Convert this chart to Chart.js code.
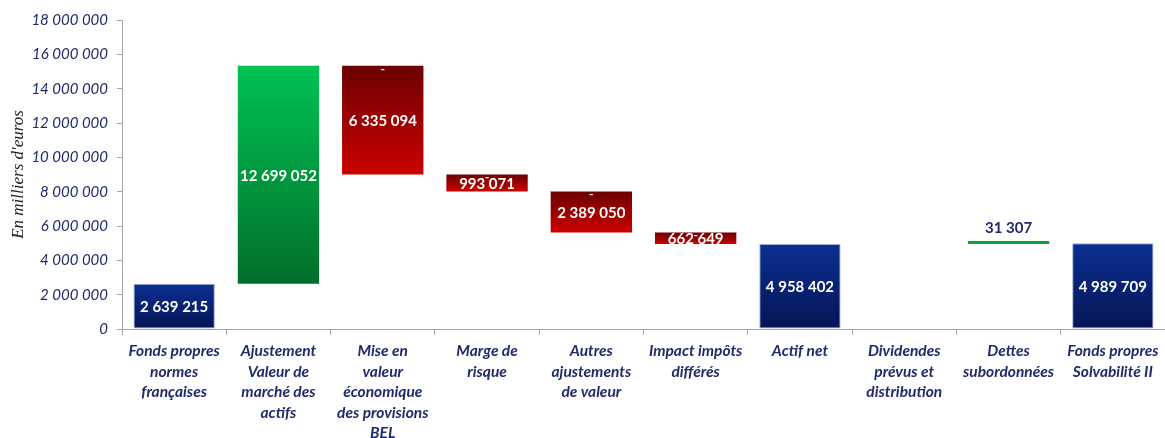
<!DOCTYPE html>
<html><head><meta charset="utf-8">
<script src="https://cdn.jsdelivr.net/npm/chart.js@4/dist/chart.umd.min.js"></script>
<style>html,body{margin:0;padding:0;background:#fff;overflow:hidden}</style>
</head><body>
<canvas id="c" width="1165" height="438"></canvas>
<script>
const categories = [
  ["Fonds propres","normes","françaises"],
  ["Ajustement","Valeur de","marché des","actifs"],
  ["Mise en","valeur","économique","des provisions","BEL"],
  ["Marge de","risque"],
  ["Autres","ajustements","de valeur"],
  ["Impact impôts","différés"],
  ["Actif net"],
  ["Dividendes","prévus et","distribution"],
  ["Dettes","subordonnées"],
  ["Fonds propres","Solvabilité II"]
];
const amounts = [2639215, 12699052, -6335094, -993071, -2389050, -662649, 4958402, 0, 31307, 4989709];
const kinds = ["total","up","down","down","down","down","total","none","up","total"];
const amountLabels = ["2 639 215","12 699 052","6 335 094","993 071","2 389 050","662 649","4 958 402","","31 307","4 989 709"];
const dashMarks = [false,false,true,true,true,true,false,false,false,false];
const yTicks = [0,2000000,4000000,6000000,8000000,10000000,12000000,14000000,16000000,18000000];

let run = 0;
const ranges = amounts.map((a,i)=>{
  if (kinds[i]==='total'){ run=a; return [0,a]; }
  if (kinds[i]==='none') return null;
  const lo=run, hi=run+a; run=hi; return [Math.min(lo,hi),Math.max(lo,hi)];
});

const palette = {
  total:['#0b2f92','#051554'],
  up:['#00c253','#006f2b'],
  down:['#6c0000','#cc0000']
};
function fillFor(ctx){
  const i=ctx.dataIndex, k=kinds[i], r=ranges[i];
  if(!r||!palette[k]) return '#fff';
  if(k==='up' && i===8) return '#0aa040';
  const ch=ctx.chart; const y=ch.scales&&ch.scales.y;
  if(!y||!ch.chartArea) return palette[k][0];
  const top=y.getPixelForValue(r[1]), bot=y.getPixelForValue(r[0]);
  if(!isFinite(top)||!isFinite(bot)||top===bot) return palette[k][0];
  const g=ch.ctx.createLinearGradient(0,top,0,bot);
  g.addColorStop(0,palette[k][0]); g.addColorStop(1,palette[k][1]);
  return g;
}

const labelPlugin = {
  id:'wfLabels',
  afterDatasetsDraw(chart){
    const c=chart.ctx; const meta=chart.getDatasetMeta(0);
    c.save();
    c.textAlign='center'; c.textBaseline='middle';
    meta.data.forEach((el,i)=>{
      if(!ranges[i]) return;
      const top=Math.min(el.y,el.base), bot=Math.max(el.y,el.base);
      const h=bot-top;
      c.font='bold 15px Lato';
      if(h<8){
        c.fillStyle='#1F2A6B';
        c.fillText(amountLabels[i], el.x, top-13);
      } else {
        c.fillStyle='#ffffff';
        c.fillText(amountLabels[i], el.x, (top+bot)/2+1);
      }
      if(dashMarks[i]){
        c.fillStyle='#ffffff';
        c.font='bold 12px Lato';
        c.fillText('-', el.x, top+3);
      }
    });
    c.restore();
  }
};

new Chart(document.getElementById('c'),{
  type:'bar',
  data:{labels:categories,datasets:[{
    data:ranges,
    backgroundColor:fillFor,
    borderColor:(ctx)=>kinds[ctx.dataIndex]==='total'?'rgba(150,165,210,0.9)':'rgba(0,0,0,0)',
    borderWidth:(ctx)=>kinds[ctx.dataIndex]==='total'?1:0,
    borderSkipped:false,
    categoryPercentage:1,
    barPercentage:0.78,
    minBarLength:3
  }]},
  options:{
    responsive:false,animation:false,
    layout:{padding:{top:20,right:-4,left:0,bottom:0}},
    plugins:{legend:{display:false},tooltip:{enabled:false}},
    scales:{
      x:{
        grid:{offset:true,drawOnChartArea:false,tickLength:6,color:'#a6a6a6'},
        border:{color:'#a6a6a6'},
        ticks:{font:{family:'Lato',size:15.5,weight:'bold',style:'italic',lineHeight:1.32},color:'#1F2A6B',padding:6,maxRotation:0,minRotation:0,autoSkip:false},
        afterFit:(s)=>{s.height=109;}
      },
      y:{
        min:0,max:18000000,
        afterBuildTicks:(s)=>{s.ticks=yTicks.map(v=>({value:v}));},
        ticks:{font:{family:'Lato',size:15,style:'italic'},color:'#1F2A6B',padding:9,
          callback:(v)=>String(v).replace(/\B(?=(\d{3})+(?!\d))/g,' ')},
        grid:{drawOnChartArea:false,tickLength:5,color:'#a6a6a6'},
        border:{color:'#a6a6a6'},
        title:{display:true,text:"En milliers d'euros",font:{family:'Liberation Serif',size:17,style:'italic'},color:'#222',padding:{top:8,bottom:0}},
        afterFit:(s)=>{s.width=122;}
      }
    }
  },
  plugins:[labelPlugin]
});
</script>
</body></html>
